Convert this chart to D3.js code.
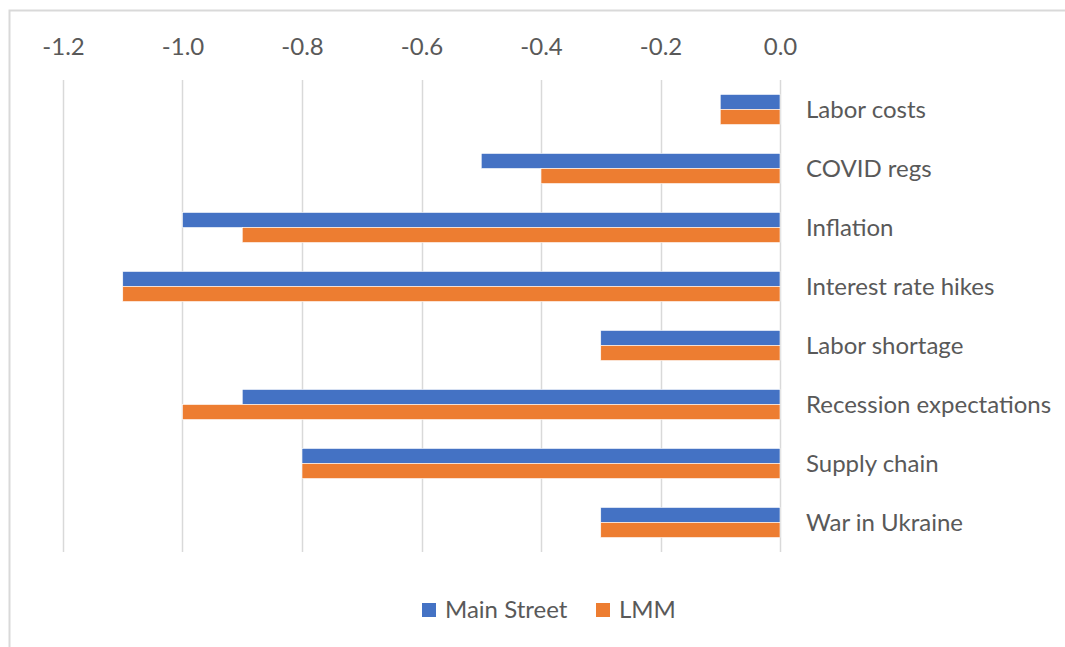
<!DOCTYPE html>
<html>
<head>
<meta charset="utf-8">
<script src="https://cdn.jsdelivr.net/npm/d3@7"></script>
<style>
  body { margin: 0; background: #fff; }
  text { font-family: Lato, "Open Sans", sans-serif; fill: #595959; }
</style>
</head>
<body>
<div id="chart"></div>
<script>
var categories = ["Labor costs", "COVID regs", "Inflation", "Interest rate hikes",
  "Labor shortage", "Recession expectations", "Supply chain", "War in Ukraine"];
var mainStreet = [-0.1, -0.5, -1.0, -1.1, -0.3, -0.9, -0.8, -0.3];
var lmm = [-0.1, -0.4, -0.9, -1.1, -0.3, -1.0, -0.8, -0.3];
var seriesNames = ["Main Street", "LMM"];
var seriesColors = ["#4472C4", "#ED7D31"];
var tickValues = [-1.2, -1.0, -0.8, -0.6, -0.4, -0.2, 0.0];

var width = 1065, height = 647;
var fontSize = 24;
var svg = d3.select("#chart").append("svg")
	.attr("width", width)
	.attr("height", height);

// outer frame (only top and left show in the picture)
svg.append("rect").attr("x", 9.5).attr("y", 10.5).attr("width", width + 20).attr("height", height + 20)
	.attr("fill", "none").attr("stroke", "#d9d9d9").attr("stroke-width", 2);

var x = d3.scaleLinear().domain([-1.2, 0]).range([63, 780]);
var y = d3.scaleBand().domain(categories).range([80, 552]).paddingInner(0.49).paddingOuter(0.245);
var sub = d3.scaleBand().domain(seriesNames).range([0, y.bandwidth()]);

// gridlines
svg.append("g").selectAll("line").data(tickValues).join("line")
	.attr("x1", function(d) { return Math.round(x(d)) + 0.5; })
	.attr("x2", function(d) { return Math.round(x(d)) + 0.5; })
	.attr("y1", 80).attr("y2", 552)
	.attr("stroke", "#d9d9d9").attr("stroke-width", 1.5);

// top axis labels, plain hyphen minus like the original
var fmt = function(d) { return d3.format(".1f")(d).replace("\u2212", "-"); };
var axis = d3.axisTop(x).tickValues(tickValues).tickFormat(fmt).tickSize(0).tickPadding(0);
var ax = svg.append("g").attr("transform", "translate(0,55)").call(axis);
ax.select(".domain").remove();
ax.selectAll("text").attr("font-size", fontSize).style("font-family", "Lato, 'Open Sans', sans-serif").attr("fill", "#595959");

var data = [mainStreet, lmm];
data.forEach(function(vals, si) {
	svg.append("g").selectAll("rect").data(vals).join("rect")
		.attr("x", function(d) { return x(d); })
		.attr("width", function(d) { return x(0) - x(d); })
		.attr("y", function(d, i) { return y(categories[i]) + sub(seriesNames[si]); })
		.attr("height", sub.bandwidth())
		.attr("fill", seriesColors[si])
		.attr("stroke", "#fff").attr("stroke-width", 0.6);
});

// category labels to the right of zero
svg.append("g").selectAll("text").data(categories).join("text")
	.attr("x", 806)
	.attr("y", function(d) { return y(d) + y.bandwidth() / 2; })
	.attr("dy", "0.35em")
	.attr("font-size", fontSize)
	.text(function(d) { return d; });

// legend
var legend = svg.append("g").attr("transform", "translate(0,610)");
var lx = [422, 596];
seriesNames.forEach(function(n, i) {
	legend.append("rect").attr("x", lx[i]).attr("y", -7).attr("width", 14).attr("height", 14).attr("fill", seriesColors[i]);
	legend.append("text").attr("x", lx[i] + 23).attr("y", 0).attr("dy", "0.35em").attr("font-size", fontSize).text(n);
});
</script>
</body>
</html>
